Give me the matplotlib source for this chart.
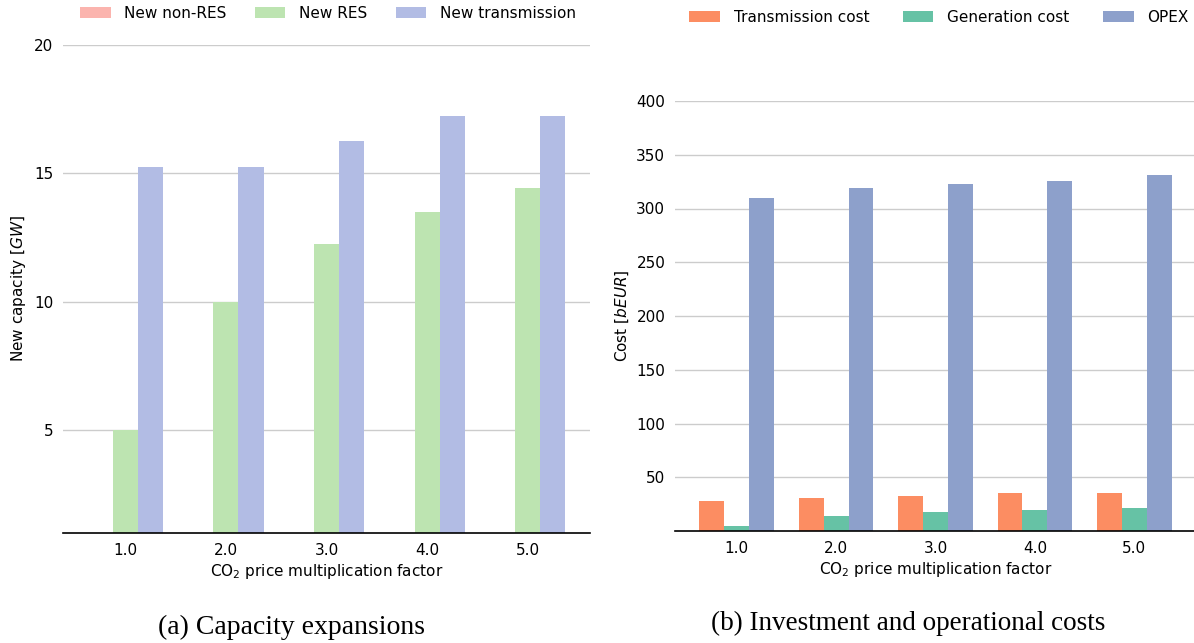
import matplotlib.pyplot as plt
import numpy as np

factors = ['1.0', '2.0', '3.0', '4.0', '5.0']

# (a) capacity expansions [GW]
new_non_res = [0, 0, 0, 0, 0]
new_res = [5.0, 10.0, 12.25, 13.5, 14.45]
new_trans = [15.25, 15.25, 16.25, 17.25, 17.25]

# (b) costs [bEUR]
trans_cost = [28, 30.8, 32.7, 35.5, 35.5]
gen_cost = [4.7, 14, 17.8, 19.6, 21.5]
opex = [310, 319.5, 322.5, 326, 331]

W, H = 1194, 643
FS = 11
fig = plt.figure(figsize=(W / 100, H / 100), dpi=100)


def style(ax):
    ax.set_axisbelow(True)
    ax.yaxis.grid(True, color='#cccccc', lw=1)
    for s in ['top', 'right', 'left']:
        ax.spines[s].set_visible(False)
    ax.spines['bottom'].set_color('black')
    ax.spines['bottom'].set_linewidth(1.2)
    ax.tick_params(length=0, labelsize=FS, pad=7)


def grouped(ax, series, colors, labels):
    x = np.arange(len(factors))
    w = 0.25
    handles = []
    for i, (vals, c, lab) in enumerate(zip(series, colors, labels)):
        h = ax.bar(x + (i - 1) * w, vals, w, color=c, label=lab)
        handles.append(h)
    ax.set_xticks(x)
    ax.set_xticklabels(factors)
    ax.set_xlim(-0.62, 4.62)
    return handles


# left panel
ax1 = fig.add_axes([63 / W, 1 - 533 / H, (590 - 63) / W, (533 - 45) / H])
style(ax1)
h1 = grouped(ax1, [new_non_res, new_res, new_trans],
             ['#fbb4ae', '#bde4b1', '#b2bce4'],
             ['New non-RES', 'New RES', 'New transmission'])
ax1.set_ylim(1, 20)
ax1.set_yticks([5, 10, 15, 20])
ax1.set_ylabel('New capacity [$GW$]', fontsize=FS, labelpad=4)
ax1.set_xlabel('CO$_2$ price multiplication factor', fontsize=FS, labelpad=3)
fig.legend(handles=h1, loc='center', bbox_to_anchor=(328 / W, 1 - 13 / H),
           ncol=3, frameon=False, fontsize=FS, columnspacing=1.85,
           handletextpad=0.9)

# right panel
ax2 = fig.add_axes([675 / W, 1 - 531 / H, (1196 - 675) / W, (531 - 101) / H])
style(ax2)
h2 = grouped(ax2, [trans_cost, gen_cost, opex],
             ['#fc8d62', '#66c2a5', '#8da0cb'],
             ['Transmission cost', 'Generation cost', 'OPEX'])
ax2.set_ylim(0, 400)
ax2.set_yticks([50, 100, 150, 200, 250, 300, 350, 400])
ax2.set_ylabel('Cost [$bEUR$]', fontsize=FS, labelpad=4)
ax2.set_xlabel('CO$_2$ price multiplication factor', fontsize=FS, labelpad=3)
fig.legend(handles=h2, loc='center', bbox_to_anchor=(939 / W, 1 - 17 / H),
           ncol=3, frameon=False, fontsize=FS, columnspacing=2.2,
           handletextpad=0.9)

# captions
fig.text(292 / W, 1 - 627 / H, '(a) Capacity expansions', ha='center',
         va='center', fontsize=20, family='Liberation Serif')
fig.text(908 / W, 1 - 623 / H, '(b) Investment and operational costs',
         ha='center', va='center', fontsize=19.5, family='Liberation Serif')

fig.savefig('out.png', dpi=100)
